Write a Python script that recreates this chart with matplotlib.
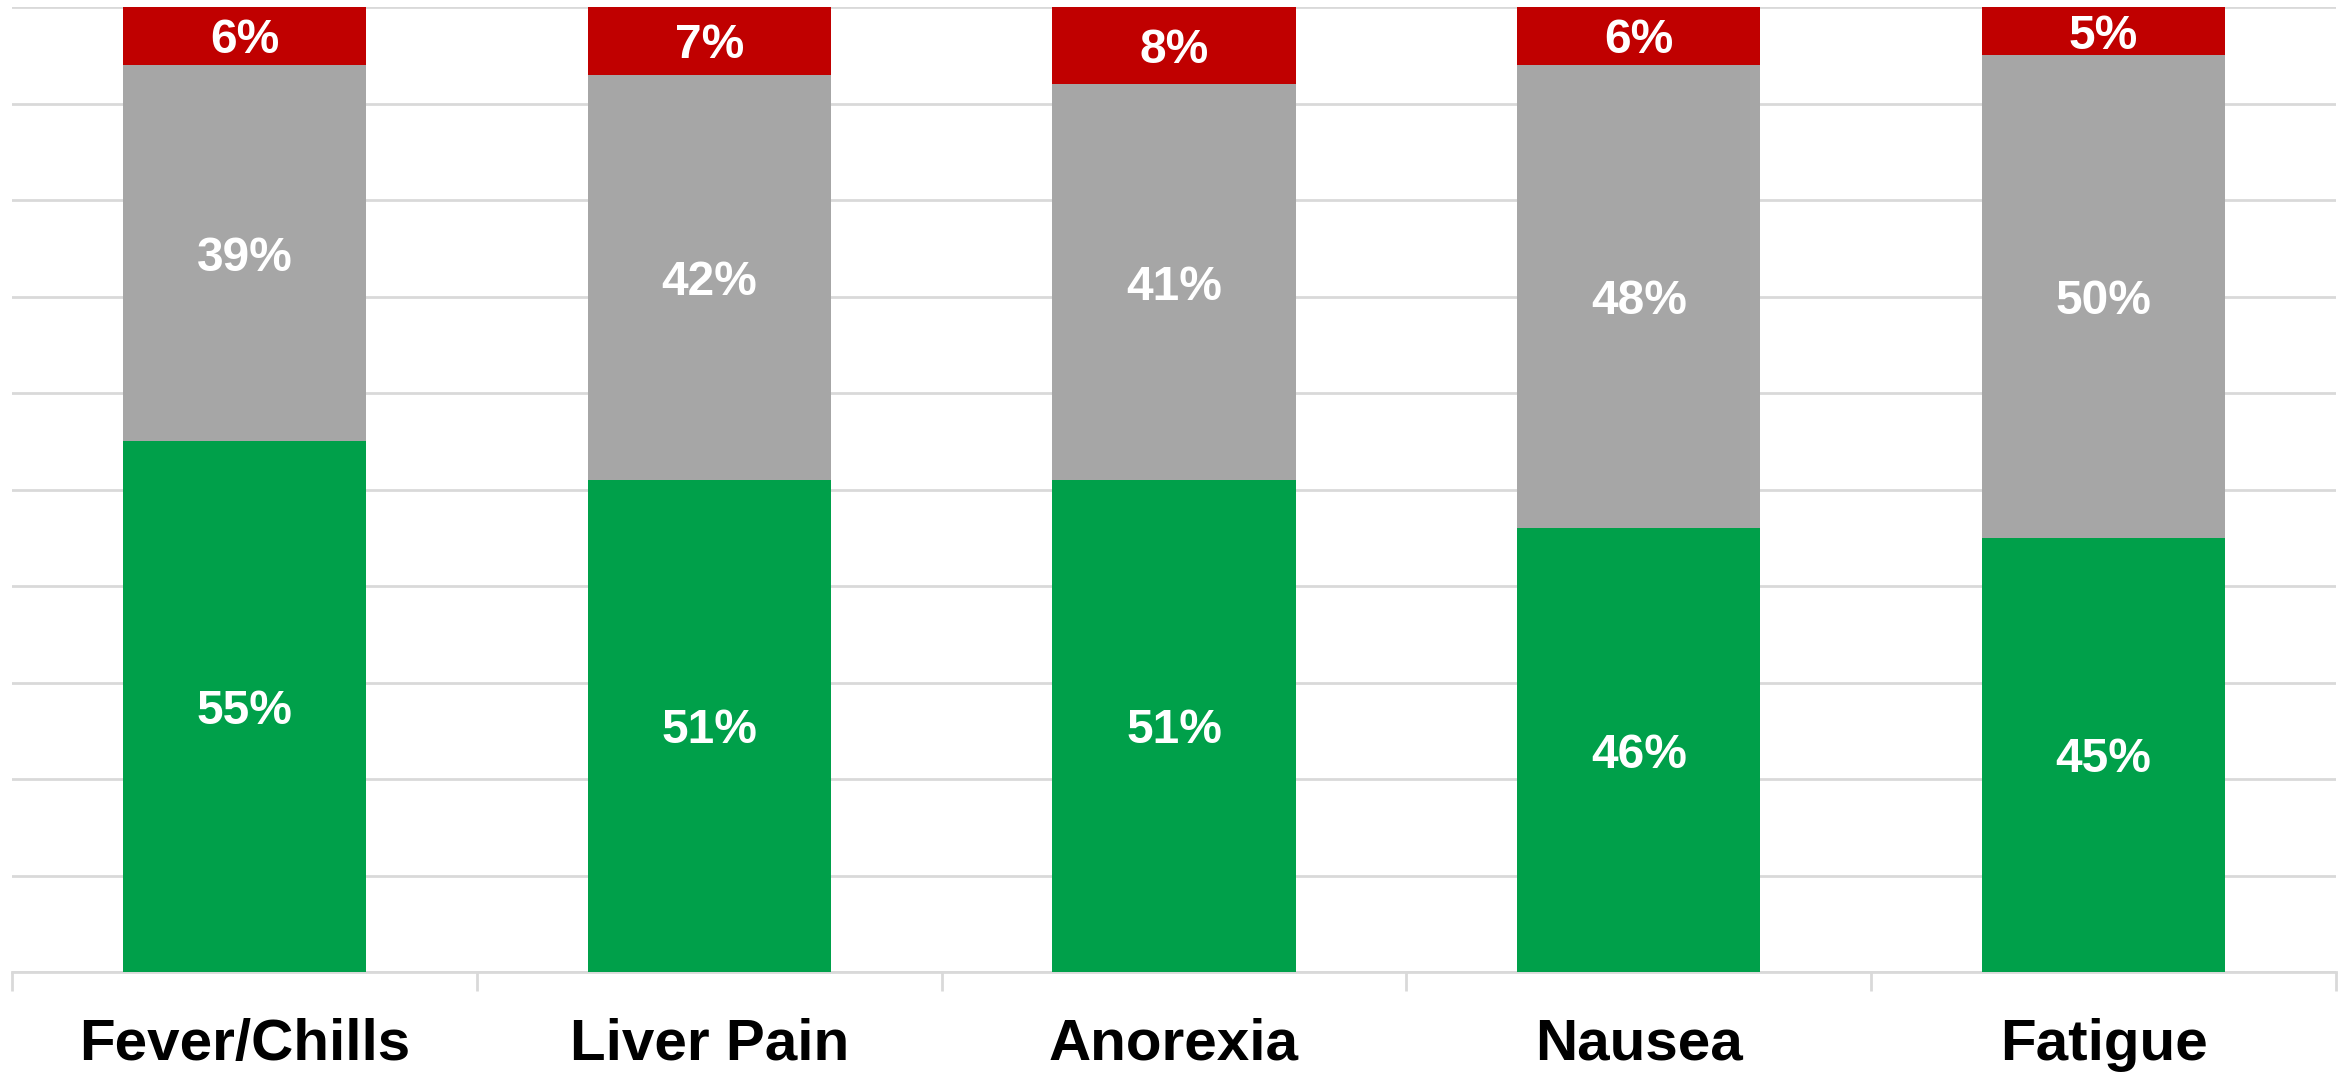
import numpy as np
import matplotlib.pyplot as plt

categories = ["Fever/Chills", "Liver Pain", "Anorexia", "Nausea", "Fatigue"]
green_vals = [55, 51, 51, 46, 45]
gray_vals = [39, 42, 41, 48, 50]
red_vals = [6, 7, 8, 6, 5]

plt.rcParams['font.family'] = ['Liberation Sans', 'DejaVu Sans']

fig = plt.figure(figsize=(23.51, 10.74), dpi=100)
ax = fig.add_axes([12 / 2351, 1 - 972 / 1074, 2324 / 2351, 965 / 1074])

x = np.arange(len(categories))
w = 0.523
green = np.array(green_vals)
gray = np.array(gray_vals)
red = np.array(red_vals)

ax.bar(x, green, w, color='#00A04A', zorder=3)
ax.bar(x, gray, w, bottom=green, color='#A6A6A6', zorder=3)
ax.bar(x, red, w, bottom=green + gray, color='#C00000', zorder=3)

# labels in the middle of each segment
for i in range(len(categories)):
    for bottom, val in [(0, green[i]), (green[i], gray[i]), (green[i] + gray[i], red[i])]:
        ax.text(x[i], bottom + val / 2, f"{val}%", ha='center', va='center_baseline',
                color='white', fontsize=34.5, fontweight='bold', zorder=4)

ax.set_xlim(-0.5, len(categories) - 0.5)
ax.set_ylim(0, 100)
ax.set_yticks(np.arange(0, 101, 10))
ax.set_yticklabels([])
ax.tick_params(axis='y', length=0)
ax.grid(axis='y', color='#D9D9D9', linewidth=2, zorder=0)

# boundary ticks on x, category labels as minor ticks
ax.set_xticks(np.arange(-0.5, len(categories), 1.0))
ax.set_xticklabels([])
ax.tick_params(axis='x', which='major', length=14, width=2, color='#D9D9D9')
ax.set_xticks(x, minor=True)
ax.set_xticklabels(categories, minor=True, fontsize=42, fontweight='bold')
ax.tick_params(axis='x', which='minor', length=0, pad=33)

for s in ['top', 'right', 'left']:
    ax.spines[s].set_visible(False)
ax.spines['bottom'].set_color('#D9D9D9')
ax.spines['bottom'].set_linewidth(2)

fig.savefig('out.png', dpi=100)
